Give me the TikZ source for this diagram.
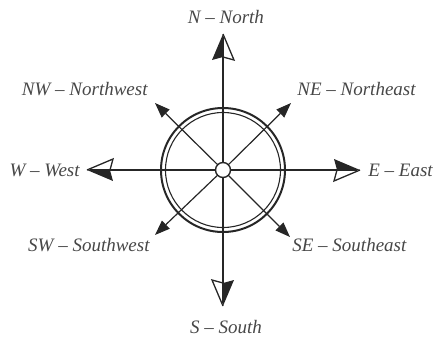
\documentclass[tikz,border=0pt]{standalone}
\usepackage{fontspec}
\setmainfont{Liberation Serif}
\usetikzlibrary{arrows.meta, positioning}

\tikzset{halfhead/.pic={
    \fill (0,0) -- (-26,11) -- (-23,0) -- cycle;
    \draw[line width=1.3pt, line join=miter] (0,0) -- (-26,-11) -- (-23,0);
}}

\begin{document}
\begin{tikzpicture}[x=1pt, y=1pt, thick, black!85]

        % Styles
        \tikzstyle{lbl} = [font=\fontsize{19}{22}\selectfont\itshape, inner sep=0pt, text=black!72]
        \tikzstyle{spoke} = [line width=1.2pt, -{Triangle[length=15pt, width=11pt]}]
        \tikzstyle{shaft} = [line width=2.5pt, shorten >=3pt]

        \useasboundingbox (-223,-168) rectangle (213,170);

        % Tips
        \coordinate (n) at (0,136);
        \coordinate (s) at (0,-136);
        \coordinate (e) at (137,0);
        \coordinate (w) at (-136,0);
        \coordinate (ne) at (68,67);
        \coordinate (nw) at (-68,67);
        \coordinate (se) at (67,-67);
        \coordinate (sw) at (-68,-65);

        % Rings
        \draw[line width=2pt] (0,0) circle (62);
        \draw[line width=1.1pt] (0,0) circle (57.5);

        % Hub
        \node[circle, draw, fill=white, minimum size=15pt, inner sep=0pt, line width=1.4pt] (hub) at (0,0) {};

        % Diagonal spokes
        \draw[spoke] (hub) -- (ne);
        \draw[spoke] (hub) -- (nw);
        \draw[spoke] (hub) -- (se);
        \draw[spoke] (hub) -- (sw);

        % Cardinal spokes
        \draw[shaft] (hub) -- (n);
        \draw[shaft] (hub) -- (s);
        \draw[shaft] (hub) -- (e);
        \draw[shaft] (hub) -- (w);
        \path (n) pic[rotate=90] {halfhead};
        \path (s) pic[rotate=-90] {halfhead};
        \path (e) pic {halfhead};
        \path (w) pic[rotate=180] {halfhead};

        % Labels
        \node[lbl, above=10pt of n, xshift=3pt] (nlbl) {N -- North};
        \node[lbl, below=14pt of s, xshift=3pt] (slbl) {S -- South};
        \node[lbl, left=7pt of w] (wlbl) {W -- West};
        \node[lbl, right=8pt of e] (elbl) {E -- East};
        \node[lbl, above left=6.5pt and 7pt of nw] (nwlbl) {NW -- Northwest};
        \node[lbl, above right=6.5pt and 6pt of ne] (nelbl) {NE -- Northeast};
        \node[lbl, below left=2.5pt and 5pt of sw] (swlbl) {SW -- Southwest};
        \node[lbl, below right=0.5pt and 2pt of se] (selbl) {SE -- Southeast};

\end{tikzpicture}
\end{document}
